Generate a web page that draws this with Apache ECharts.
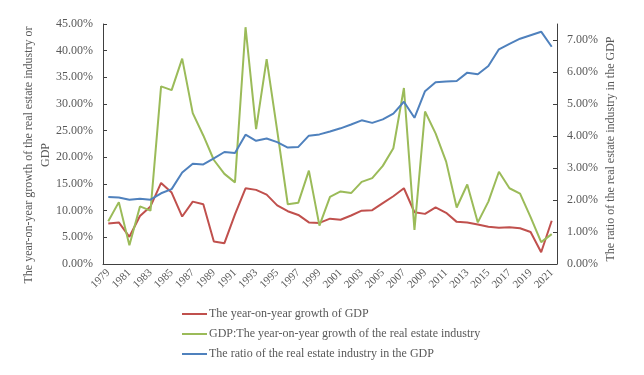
<!DOCTYPE html>
<html>
<head>
<meta charset="utf-8">
<script src="https://cdn.jsdelivr.net/npm/echarts@6/dist/echarts.min.js"></script>
<style>html,body{margin:0;padding:0;background:#fff;}#c{width:644px;height:375px;}</style>
</head>
<body>
<div id="c"></div>
<script>
var years = [];
for (var y = 1979; y <= 2021; y++) years.push(String(y));

var gdpGrowth = [7.6,7.8,5.1,9.0,10.8,15.2,13.4,8.9,11.7,11.2,4.2,3.9,9.3,14.2,13.9,13.0,11.0,9.9,9.2,7.8,7.7,8.5,8.3,9.1,10.0,10.1,11.4,12.7,14.2,9.7,9.4,10.6,9.6,7.9,7.8,7.4,7.0,6.8,6.9,6.7,6.0,2.2,8.1];
var reGrowth = [8.0,11.6,3.5,10.8,10.0,33.3,32.6,38.5,28.3,24.1,19.5,16.9,15.3,44.4,25.3,38.4,25.0,11.2,11.5,17.5,7.2,12.6,13.6,13.3,15.4,16.1,18.4,21.7,33.0,6.4,28.6,24.5,19.2,10.6,14.9,7.8,11.7,17.3,14.2,13.2,8.8,4.1,5.6];
var reRatio = [2.09,2.08,2.01,2.04,2.01,2.21,2.34,2.86,3.13,3.11,3.30,3.50,3.47,4.04,3.85,3.92,3.81,3.64,3.66,4.01,4.05,4.14,4.24,4.36,4.49,4.41,4.52,4.70,5.07,4.57,5.40,5.68,5.70,5.72,5.98,5.93,6.19,6.71,6.88,7.04,7.15,7.26,6.79];

var seriesNames = ['The year-on-year growth of GDP','GDP:The year-on-year growth of the real estate industry','The ratio of the real estate industry in the GDP'];
var leftTitle = 'The year-on-year growth of the real estate industry or\nGDP';
var rightTitle = 'The ratio of the real estate industry in the GDP';

var FONT = 'Liberation Serif';
var TXT = '#595959';
var AX = '#404040';

var chart = echarts.init(document.getElementById('c'), null, {renderer:'canvas'});
chart.setOption({
  animation: false,
  textStyle: {fontFamily: FONT},
  grid: {left: 103, right: 87, top: 24, bottom: 111, containLabel: false},
  graphic: [
    {type: 'text', x: 37.5, y: 155, rotation: Math.PI/2,
     style: {text: leftTitle, font: '12px "Liberation Serif"', fill: TXT, align: 'center', verticalAlign: 'middle', lineHeight: 17}},
    {type: 'text', x: 611, y: 149, rotation: Math.PI/2,
     style: {text: rightTitle, font: '12px "Liberation Serif"', fill: TXT, align: 'center', verticalAlign: 'middle'}}
  ],
  legend: {
    orient: 'vertical', left: 177, top: 303, icon: 'rect', itemWidth: 25, itemHeight: 2, itemGap: 8,
    textStyle: {fontFamily: FONT, fontSize: 12, color: TXT, padding: [0,0,0,-3]},
    data: seriesNames
  },
  xAxis: {
    type: 'category', data: years, boundaryGap: true,
    axisLine: {lineStyle: {color: AX, width: 1}},
    axisTick: {inside: true, length: 4, interval: 0, lineStyle: {color: AX}},
    axisLabel: {rotate: 45, interval: 1, fontSize: 11, color: TXT, fontFamily: FONT, margin: 7},
    splitLine: {show: false}
  },
  yAxis: [{
    type: 'value', min: 0, max: 45, interval: 5, position: 'left',
    axisLine: {show: true, lineStyle: {color: AX}},
    axisTick: {show: true, inside: true, length: 4, lineStyle: {color: AX}},
    axisLabel: {formatter: function(v){return v.toFixed(2)+'%';}, fontSize: 12, color: TXT, fontFamily: FONT, margin: 10},
    splitLine: {show: false}
  },{
    type: 'value', min: 0, max: 7.5, interval: 1, position: 'right',
    axisLine: {show: true, lineStyle: {color: AX}},
    axisTick: {show: true, inside: true, length: 4, lineStyle: {color: AX}},
    axisLabel: {showMaxLabel: false, formatter: function(v){return v.toFixed(2)+'%';}, fontSize: 12, color: TXT, fontFamily: FONT, margin: 10},
    splitLine: {show: false}
  }],
  series: [
    {name: seriesNames[0], type: 'line', yAxisIndex: 0, data: gdpGrowth, showSymbol: false, symbol: 'none', lineStyle: {color: '#C0504D', width: 2}, itemStyle: {color: '#C0504D'}},
    {name: seriesNames[1], type: 'line', yAxisIndex: 0, data: reGrowth, showSymbol: false, symbol: 'none', lineStyle: {color: '#9BBB59', width: 2}, itemStyle: {color: '#9BBB59'}},
    {name: seriesNames[2], type: 'line', yAxisIndex: 1, data: reRatio, showSymbol: false, symbol: 'none', lineStyle: {color: '#4F81BD', width: 2}, itemStyle: {color: '#4F81BD'}}
  ]
});
</script>
</body>
</html>
